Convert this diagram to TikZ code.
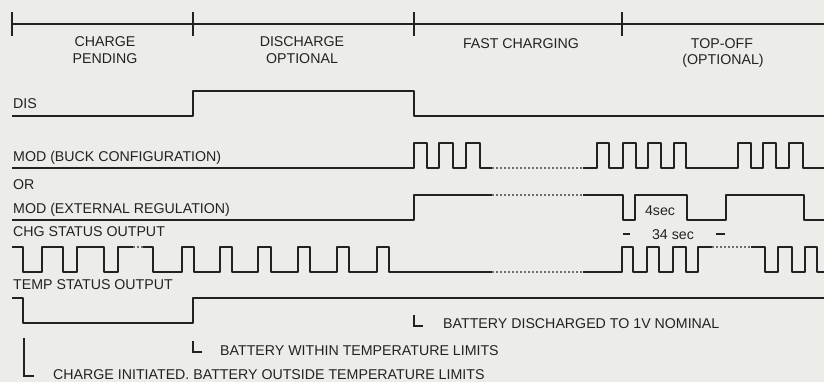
\documentclass[tikz,border=0pt]{standalone}
\usepackage{fontspec}
\setmainfont{Liberation Sans}
\definecolor{ink}{RGB}{34,34,34}
\definecolor{paper}{RGB}{236,236,233}
\definecolor{dots}{RGB}{110,110,110}
\begin{document}
\begin{tikzpicture}[x=1bp,y=-1bp,
  wave/.style={line width=1.8bp, draw=ink, line join=round},
  gapline/.style={line width=1.1bp, draw=dots, dash pattern=on 2bp off 2bp},
  lbl/.style={font=\fontsize{14.2bp}{16bp}\selectfont, text=ink, inner sep=0pt, text height=10.2bp, text depth=0bp},
  lw/.style={lbl, anchor=west},
  bracket/.style={line width=1.8bp, draw=ink}]
\fill[paper] (0,0) rectangle (824,382);
\useasboundingbox (0,0) rectangle (824,382);

% time line with phase ticks
\draw[wave] (12,24) -- (824,24);
\foreach \t in {12,193,414,622} \draw[wave] (\t,12) -- (\t,36);

% phase labels
\node[lbl] (cp1) at (105,41.5) {CHARGE};
\node[lbl] (cp2) at (105,58) {PENDING};
\node[lbl] (do1) at (302,41.5) {DISCHARGE};
\node[lbl] (do2) at (302,58) {OPTIONAL};
\node[lbl] (fc) at (521,43) {FAST CHARGING};
\node[lbl] (to1) at (722,43) {TOP-OFF};
\node[lbl] (to2) at (723,59.5) {(OPTIONAL)};

% signal labels
\node[lw] (ldis) at (13,103) {DIS};
\node[lw] (lbuck) at (13,156) {MOD (BUCK CONFIGURATION)};
\node[lw] (lor) at (13,184) {OR};
\node[lw] (lext) at (13,208) {MOD (EXTERNAL REGULATION)};
\node[lw] (lchg) at (13,231.5) {CHG STATUS OUTPUT};
\node[lw] (ltmp) at (13,284) {TEMP STATUS OUTPUT};

% DIS
\draw[wave] (12,116) -- (193,116) -- (193,91) -- (414,91) -- (414,116) -- (824,116);

% MOD buck
\draw[wave] (12,168) -- (414,168) -- (414,143) -- (427,143) -- (427,168) -- (439,168) -- (439,143) -- (453,143) -- (453,168) -- (466,168) -- (466,143) -- (480,143) -- (480,168) -- (492,168);
\draw[gapline] (492,168) -- (583,168);
\draw[wave] (583,168) -- (597,168) -- (597,143) -- (609,143) -- (609,168) -- (623,168) -- (623,143) -- (636,143) -- (636,168) -- (648,168) -- (648,143) -- (661,143) -- (661,168) -- (674,168) -- (674,143) -- (686,143) -- (686,168) -- (738,168) -- (738,143) -- (751,143) -- (751,168) -- (763,168) -- (763,143) -- (776,143) -- (776,168) -- (789,168) -- (789,143) -- (803,143) -- (803,168) -- (824,168);

% MOD external
\draw[wave] (12,220) -- (414,220) -- (414,195) -- (492,195);
\draw[gapline] (492,195) -- (583,195);
\draw[wave] (583,195) -- (623,195) -- (623,220) -- (635,220) -- (635,195) -- (687,195) -- (687,220) -- (726,220) -- (726,195) -- (804,195) -- (804,220) -- (824,220);
\node[lbl] (four) at (660,210) {4sec};
\node[lbl] (thirty) at (673,234) {34 sec};
\draw[bracket] (623,234) -- (630,234);
\draw[bracket] (716,234) -- (725,234);

% CHG status
\draw[wave] (12,247) -- (23,247) -- (23,272) -- (42,272) -- (42,247) -- (63,247) -- (63,272) -- (77,272) -- (77,247) -- (104,247) -- (104,272) -- (118,272) -- (118,247) -- (133,247);
\draw[gapline] (133,247) -- (143,247);
\draw[wave] (143,247) -- (153,247) -- (153,272) -- (182,272) -- (182,247) -- (194,247) -- (194,272) -- (220,272) -- (220,247) -- (232,247) -- (232,272) -- (258,272) -- (258,247) -- (271,247) -- (271,272) -- (298,272) -- (298,247) -- (310,247) -- (310,272) -- (337,272) -- (337,247) -- (349,247) -- (349,272) -- (377,272) -- (377,247) -- (389,247) -- (389,272) -- (492,272);
\draw[gapline] (492,272) -- (583,272);
\draw[wave] (583,272) -- (622,272) -- (622,247) -- (633,247) -- (633,272) -- (647,272) -- (647,247) -- (659,247) -- (659,272) -- (673,272) -- (673,247) -- (686,247) -- (686,272) -- (698,272) -- (698,247) -- (712,247);
\draw[gapline] (712,247) -- (751,247);
\draw[wave] (751,247) -- (765,247) -- (765,272) -- (778,272) -- (778,247) -- (792,247) -- (792,272) -- (805,272) -- (805,247) -- (817,247) -- (817,272) -- (824,272);

% TEMP status
\draw[wave] (12,298) -- (23,298) -- (23,323) -- (193,323) -- (193,298) -- (824,298);

% event notes
\node[lw] (n1) at (443,323) {BATTERY DISCHARGED TO 1V NOMINAL};
\node[lw] (n2) at (220,350) {BATTERY WITHIN TEMPERATURE LIMITS};
\node[lw] (n3) at (53,374) {CHARGE INITIATED. BATTERY OUTSIDE TEMPERATURE LIMITS};
\draw[bracket] (414,315) -- (414,326) -- (423,326);
\draw[bracket] (193,341) -- (193,352) -- (202,352);
\draw[bracket] (24,338) -- (24,376) -- (34,376);
\end{tikzpicture}
\end{document}
